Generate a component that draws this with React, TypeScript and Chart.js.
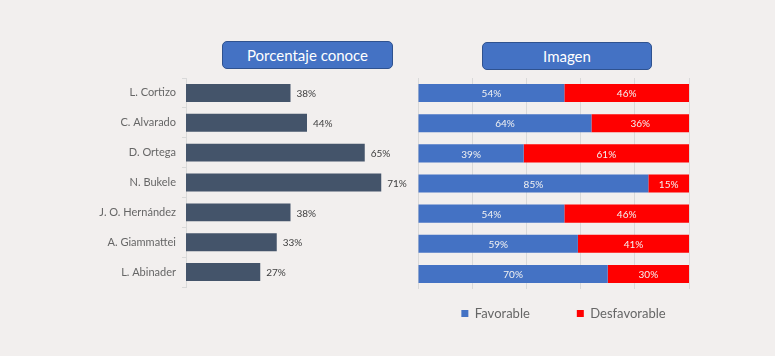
import React, { useEffect, useRef } from "react";
import { Chart, registerables } from "chart.js";
Chart.register(...registerables);

const candidates = ["L. Cortizo", "C. Alvarado", "D. Ortega", "N. Bukele", "J. O. Hernández", "A. Giammattei", "L. Abinader"];
const conoce = [38, 44, 65, 71, 38, 33, 27];
const favorable = [54, 64, 39, 85, 54, 59, 70];
const desfavorable = [46, 36, 61, 15, 46, 41, 30];
const seriesNames = ["Favorable", "Desfavorable"];
const panelTitles = ["Porcentaje conoce", "Imagen"];

const FONT = "Lato, 'Open Sans', sans-serif";

const makeLabelPlugin = (color: string, inside: boolean) => ({
  id: "valueLabels",
  afterDatasetsDraw(chart: any) {
    const ctx = chart.ctx;
    ctx.save();
    ctx.font = `10px ${FONT}`;
    ctx.fillStyle = color;
    ctx.textBaseline = "middle";
    chart.data.datasets.forEach((ds: any, di: number) => {
      const meta = chart.getDatasetMeta(di);
      meta.data.forEach((el: any, i: number) => {
        const v = ds.data[i];
        const { x, y, base } = el.getProps(["x", "y", "base"], true);
        if (inside) {
          ctx.textAlign = "center";
          ctx.fillText(v + "%", (x + base) / 2, y + 1);
        } else {
          ctx.textAlign = "left";
          ctx.fillText(v + "%", x + 6, y + 1);
        }
      });
    });
    ctx.restore();
  },
});

const boxStyle = (left: number, top: number, width: number): React.CSSProperties => ({
  position: "absolute",
  left,
  top,
  width,
  height: 28,
  boxSizing: "border-box",
  background: "#4472C4",
  border: "1px solid #2F528F",
  borderRadius: 5,
  color: "#ffffff",
  fontFamily: FONT,
  fontSize: 15,
  display: "flex",
  alignItems: "center",
  justifyContent: "center",
});

export default function App() {
  const leftRef = useRef<HTMLCanvasElement>(null);
  const rightRef = useRef<HTMLCanvasElement>(null);

  useEffect(() => {
    const left = new Chart(leftRef.current!, {
      type: "bar",
      data: {
        labels: candidates,
        datasets: [
          {
            label: panelTitles[0],
            data: conoce,
            backgroundColor: "#44546A",
            categoryPercentage: 0.6,
            barPercentage: 1,
          },
        ],
      },
      options: {
        indexAxis: "y",
        responsive: false,
        animation: false,
        layout: { padding: { top: 78, bottom: 69, left: 0, right: 14 } },
        plugins: { legend: { display: false }, tooltip: { enabled: false } },
        scales: {
          x: { display: false, min: 0, max: 80 },
          y: {
            grid: { display: true, drawOnChartArea: false, offset: true, color: "#d9d9d9", tickLength: 4 },
            border: { display: true, color: "#d9d9d9" },
            ticks: { color: "#666666", font: { family: FONT, size: 11 }, padding: 6 },
            afterFit: (s: any) => {
              s.width = 186;
            },
          },
        },
      },
      plugins: [makeLabelPlugin("#404040", false)],
    } as any);

    const right = new Chart(rightRef.current!, {
      type: "bar",
      data: {
        labels: candidates,
        datasets: [
          {
            label: seriesNames[0],
            data: favorable,
            backgroundColor: "#4472C4",
            categoryPercentage: 0.6,
            barPercentage: 1,
          },
          {
            label: seriesNames[1],
            data: desfavorable,
            backgroundColor: "#FF0000",
            categoryPercentage: 0.6,
            barPercentage: 1,
          },
        ],
      },
      options: {
        indexAxis: "y",
        responsive: false,
        animation: false,
        layout: { padding: { top: 78, bottom: 0, left: 0, right: 28 } },
        plugins: {
          legend: {
            display: true,
            position: "bottom",
            labels: {
              boxWidth: 7,
              boxHeight: 7,
              padding: 47,
              color: "#666666",
              font: { family: FONT, size: 13 },
            },
          },
          tooltip: { enabled: false },
        },
        scales: {
          x: {
            stacked: true,
            min: 0,
            max: 100,
            ticks: { display: false, stepSize: 20 },
            grid: { color: "#d9d9d9", drawTicks: false },
            border: { display: false },
            afterFit: (s: any) => {
              s.height = -29;
            },
          },
          y: {
            stacked: true,
            position: "left",
            ticks: { display: false },
            grid: { display: false },
            border: { display: false },
            afterFit: (s: any) => {
              s.width = 38;
            },
          },
          yRight: {
            type: "linear",
            position: "right",
            ticks: { display: false },
            grid: { display: false },
            border: { display: false },
            afterFit: (s: any) => {
              s.width = 58;
            },
          },
        },
      },
      plugins: [makeLabelPlugin("#f2f2f2", true)],
    } as any);

    return () => {
      left.destroy();
      right.destroy();
    };
  }, []);

  return (
    <div
      style={{
        position: "fixed",
        left: 0,
        top: 0,
        width: 775,
        height: 356,
        background: "#F2EFEE",
        overflow: "hidden",
      }}
    >
      <canvas ref={leftRef} width={420} height={356} style={{ position: "absolute", left: 0, top: 0 }} />
      <canvas ref={rightRef} width={395} height={359} style={{ position: "absolute", left: 380, top: 0 }} />
      <div style={boxStyle(222, 41, 171)}>{panelTitles[0]}</div>
      <div style={boxStyle(482, 42, 170)}>{panelTitles[1]}</div>
    </div>
  );
}
